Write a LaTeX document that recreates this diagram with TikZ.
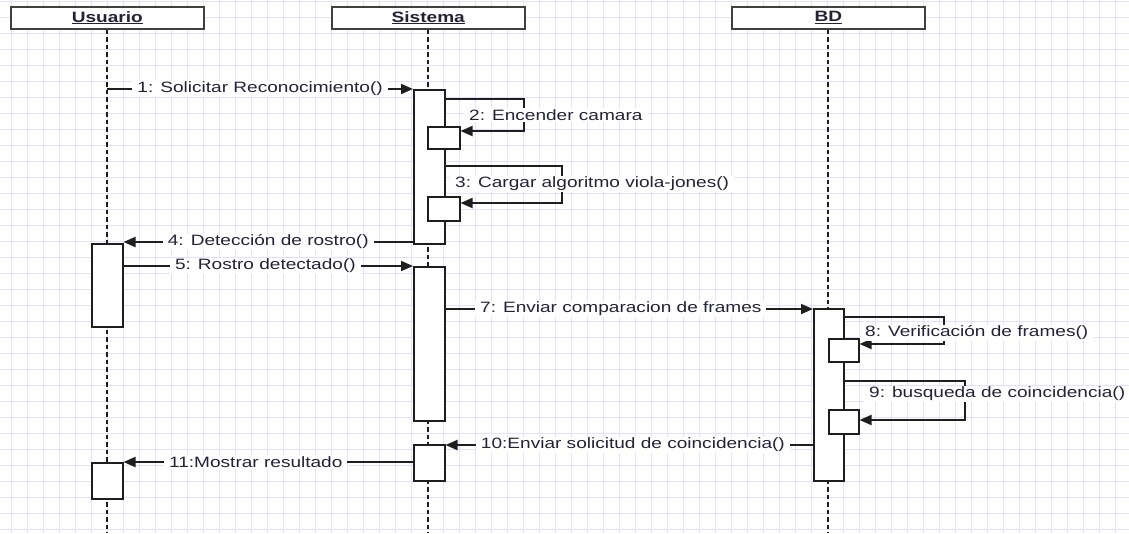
\documentclass[tikz,border=0pt]{standalone}
\usepackage{fontspec}
\setmainfont[FakeStretch=1.27]{Liberation Sans}
\usetikzlibrary{arrows.meta}
\definecolor{gridc}{RGB}{226,226,255}
\definecolor{ink}{RGB}{30,30,30}
\definecolor{txt}{RGB}{35,35,55}
\tikzset{
  hdr/.style={draw=ink!85, fill=white, line width=1.5pt, minimum width=193pt, minimum height=22pt, inner sep=0pt, anchor=north west, font=\fontsize{15}{17}\selectfont\bfseries, text=txt},
  actbox/.style={draw=ink, fill=white, line width=1.5pt, inner sep=0pt, anchor=north west},
  life/.style={draw=ink, line width=1.6pt, dash pattern=on 4.5pt off 3pt},
  msg/.style={draw=ink, line width=1.9pt, -{Triangle[length=12pt,width=10pt]}},
  lbl/.style={fill=white, inner xsep=5pt, inner ysep=1pt, text=txt, font=\fontsize{15}{18}\selectfont},
}
\begin{document}
\begin{tikzpicture}[x=1pt,y=-1pt]
\useasboundingbox (0,0) rectangle (1129,533);
\fill[white] (0,0) rectangle (1129,533);
% grid
\foreach \gx in {11,27,...,1129} \draw[gridc, line width=1pt] (\gx,0) -- (\gx,533);
\foreach \gy in {1,17,...,533} \draw[gridc, line width=1pt] (0,\gy) -- (1129,\gy);

% headers
\node[hdr] (usr) at (10,6) {\underline{Usuario}};
\node[hdr] (sis) at (331,6) {\underline{Sistema}};
\node[hdr] (bd) at (731,6) {\underline{BD}};

% lifelines
\coordinate (usrEnd) at (usr.south |- 0,533);
\coordinate (sisEnd) at (sis.south |- 0,533);
\coordinate (bdEnd) at (bd.south |- 0,533);
\draw[life] (usr.south) -- (usrEnd);
\draw[life] (sis.south) -- (sisEnd);
\draw[life] (bd.south) -- (bdEnd);

% activations
\node[actbox, minimum width=31pt, minimum height=154pt] (s1) at (413,89) {};
\node[actbox, minimum width=32pt, minimum height=22pt] (s2n) at (427,126) {};
\node[actbox, minimum width=32pt, minimum height=24pt] (s3n) at (427,196) {};
\node[actbox, minimum width=31pt, minimum height=83pt] (u1) at (91,243) {};
\node[actbox, minimum width=31pt, minimum height=154pt] (s4) at (413,266) {};
\node[actbox, minimum width=30pt, minimum height=172pt] (b1) at (813,308) {};
\node[actbox, minimum width=30pt, minimum height=23pt] (b2n) at (828,338) {};
\node[actbox, minimum width=30pt, minimum height=24pt] (b3n) at (828,409) {};
\node[actbox, minimum width=31pt, minimum height=36pt] (s5) at (413,444) {};
\node[actbox, minimum width=31pt, minimum height=36pt] (u2) at (91,462) {};

% messages
\draw[msg] (usr.south |- 0,89) -- node[lbl, pos=0.5] {1: Solicitar Reconocimiento()} (s1.west |- 0,89);
\draw[msg] (s1.east |- 0,99) -- (524,99) -- (524,131) -- (s2n.east |- 0,131);
\node[lbl, anchor=west] (l2) at (464,115) {2: Encender camara};
\draw[msg] (s1.east |- 0,166) -- (562,166) -- (562,203) -- (s3n.east |- 0,203);
\node[lbl, anchor=west] (l3) at (450,184) {3: Cargar algoritmo viola-jones()};
\draw[msg] (s1.west |- 0,242) -- node[lbl, pos=0.5] {4: Detección de rostro()} (u1.east |- 0,242);
\draw[msg] (u1.east |- 0,266) -- node[lbl, pos=0.49] {5: Rostro detectado()} (s4.west |- 0,266);
\draw[msg] (s4.east |- 0,309) -- node[lbl, pos=0.477] {7: Enviar comparacion de frames} (b1.west |- 0,309);
\draw[msg] (b1.east |- 0,317) -- (944,317) -- (944,344) -- (b2n.east |- 0,344);
\node[lbl, anchor=west] (l8) at (860,333) {8: Verificación de frames()};
\draw[msg] (b1.east |- 0,381) -- (965,381) -- (965,420) -- (b3n.east |- 0,420);
\node[lbl, anchor=west] (l9) at (864,394) {9: busqueda de coincidencia()};
\draw[msg] (b1.west |- 0,445) -- node[lbl, pos=0.49] {10:Enviar solicitud de coincidencia()} (s5.east |- 0,445);
\draw[msg] (s5.west |- 0,462) -- node[lbl, pos=0.543] {11:Mostrar resultado} (u2.east |- 0,462);
\end{tikzpicture}
\end{document}
